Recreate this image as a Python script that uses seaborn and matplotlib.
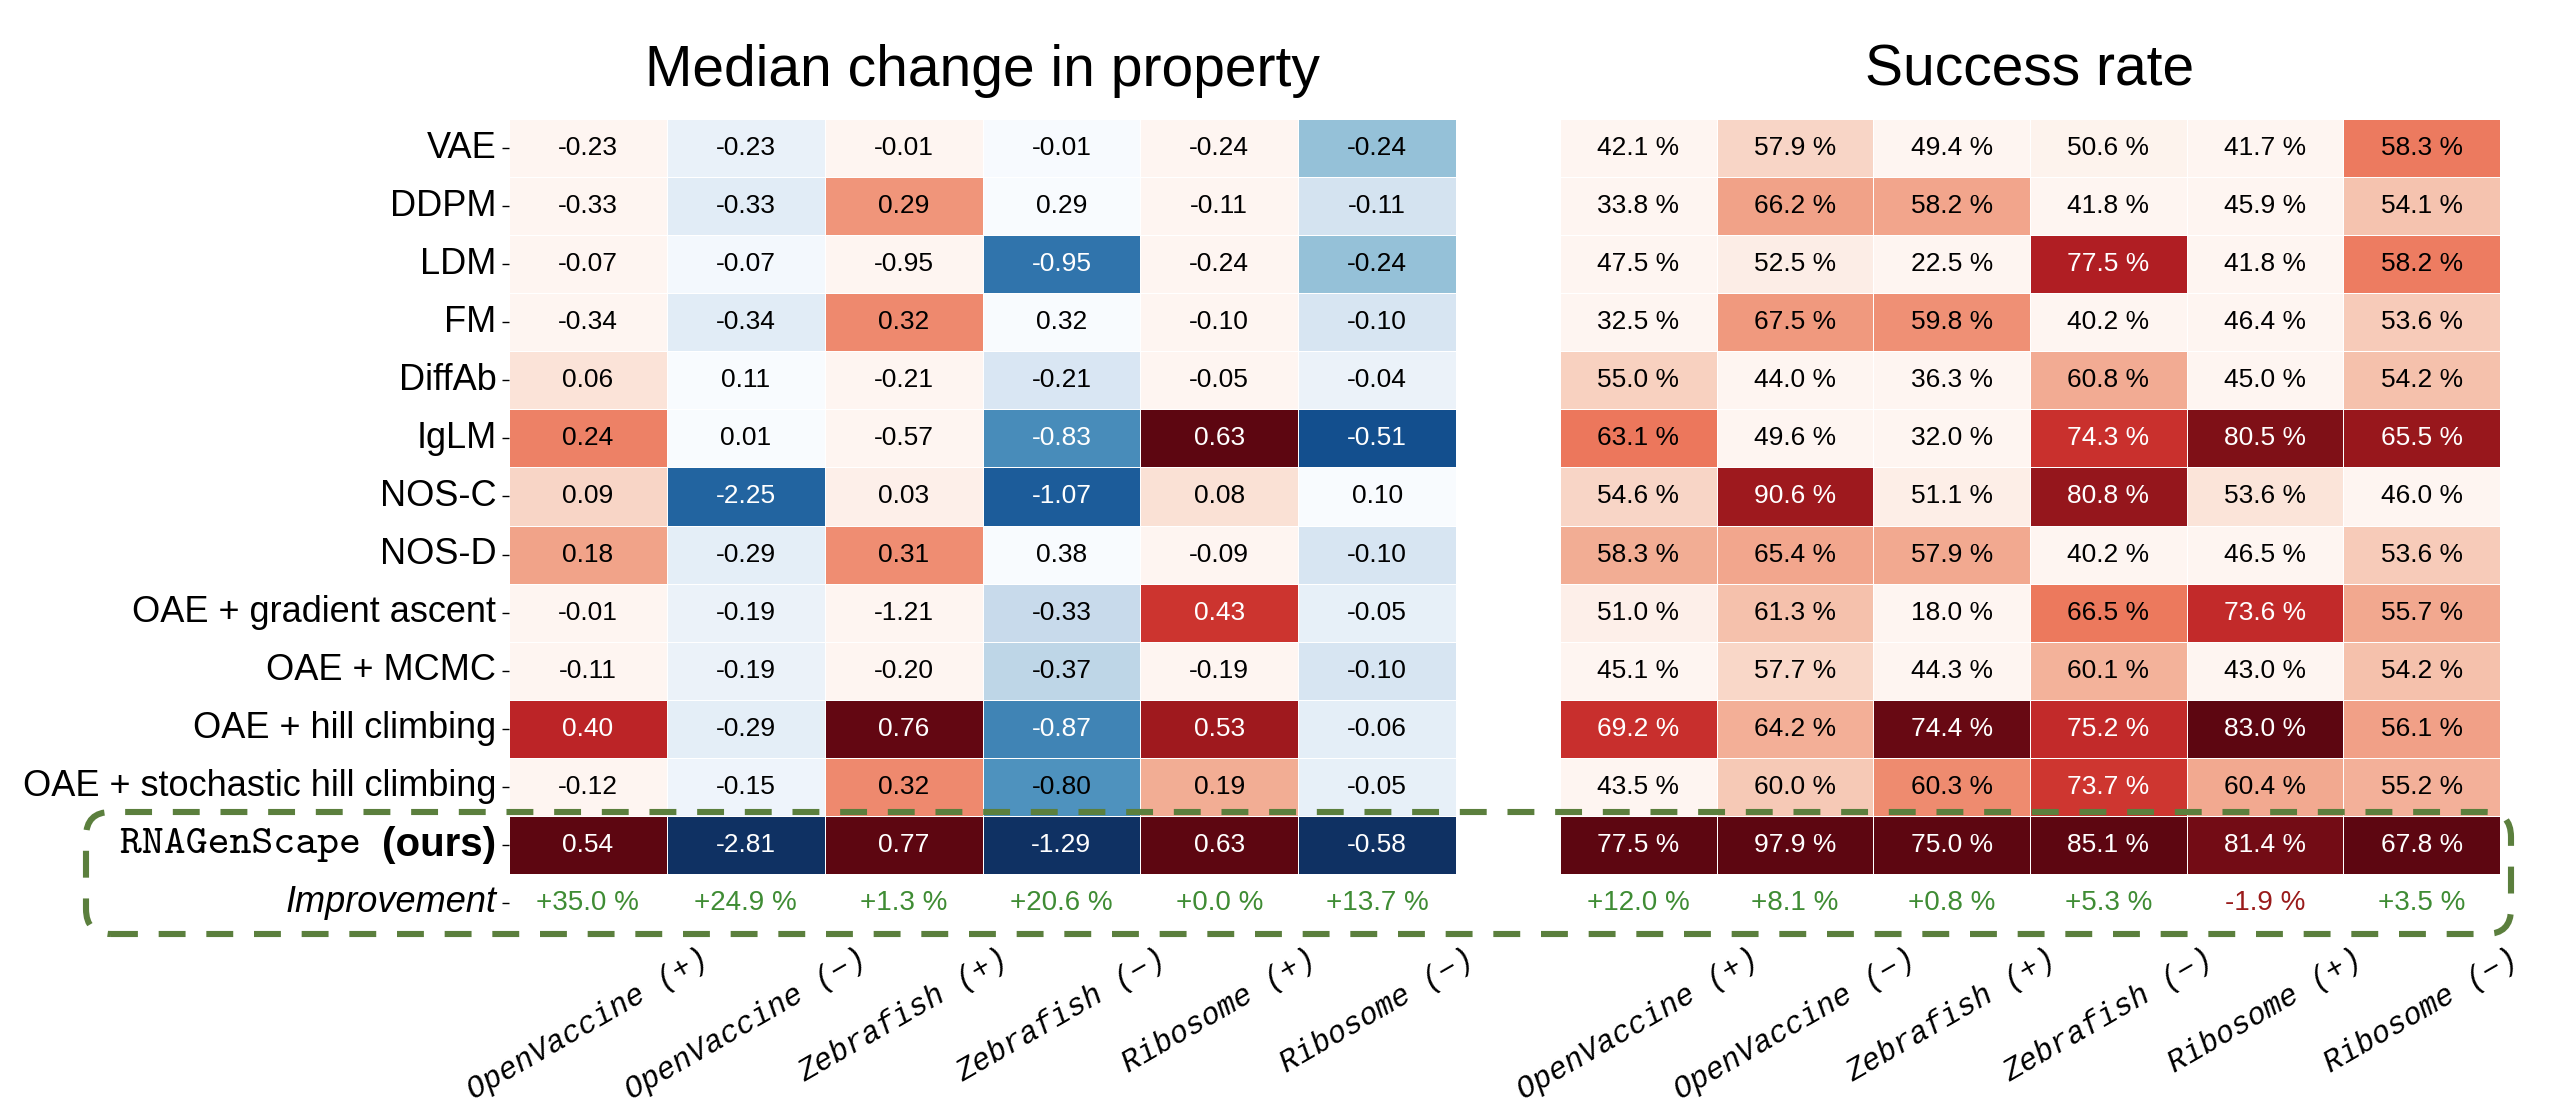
import numpy as np
import pandas as pd
import seaborn as sns
import matplotlib.pyplot as plt
from matplotlib import font_manager
from matplotlib.colors import ListedColormap
from matplotlib.patches import FancyBboxPatch

# heatmaps of median property change and success rate, colour scaled per column

methods = ["VAE", "DDPM", "LDM", "FM", "DiffAb", "IgLM", "NOS-C", "NOS-D",
           "OAE + gradient ascent", "OAE + MCMC", "OAE + hill climbing",
           "OAE + stochastic hill climbing", "RNAGenScape"]
tasks = ["OpenVaccine (+)", "OpenVaccine (\u2212)", "Zebrafish (+)",
         "Zebrafish (\u2212)", "Ribosome (+)", "Ribosome (\u2212)"]
task_sign = ["+", "-", "+", "-", "+", "-"]

median_change = [
    [-0.23, -0.23, -0.01, -0.01, -0.24, -0.24],
    [-0.33, -0.33, 0.29, 0.29, -0.11, -0.11],
    [-0.07, -0.07, -0.95, -0.95, -0.24, -0.24],
    [-0.34, -0.34, 0.32, 0.32, -0.10, -0.10],
    [0.06, 0.11, -0.21, -0.21, -0.05, -0.04],
    [0.24, 0.01, -0.57, -0.83, 0.63, -0.51],
    [0.09, -2.25, 0.03, -1.07, 0.08, 0.10],
    [0.18, -0.29, 0.31, 0.38, -0.09, -0.10],
    [-0.01, -0.19, -1.21, -0.33, 0.43, -0.05],
    [-0.11, -0.19, -0.20, -0.37, -0.19, -0.10],
    [0.40, -0.29, 0.76, -0.87, 0.53, -0.06],
    [-0.12, -0.15, 0.32, -0.80, 0.19, -0.05],
    [0.54, -2.81, 0.77, -1.29, 0.63, -0.58],
]
median_improvement = [35.0, 24.9, 1.3, 20.6, 0.0, 13.7]

success_rate = [
    [42.1, 57.9, 49.4, 50.6, 41.7, 58.3],
    [33.8, 66.2, 58.2, 41.8, 45.9, 54.1],
    [47.5, 52.5, 22.5, 77.5, 41.8, 58.2],
    [32.5, 67.5, 59.8, 40.2, 46.4, 53.6],
    [55.0, 44.0, 36.3, 60.8, 45.0, 54.2],
    [63.1, 49.6, 32.0, 74.3, 80.5, 65.5],
    [54.6, 90.6, 51.1, 80.8, 53.6, 46.0],
    [58.3, 65.4, 57.9, 40.2, 46.5, 53.6],
    [51.0, 61.3, 18.0, 66.5, 73.6, 55.7],
    [45.1, 57.7, 44.3, 60.1, 43.0, 54.2],
    [69.2, 64.2, 74.4, 75.2, 83.0, 56.1],
    [43.5, 60.0, 60.3, 73.7, 60.4, 55.2],
    [77.5, 97.9, 75.0, 85.1, 81.4, 67.8],
]
success_improvement = [12.0, 8.1, 0.8, 5.3, -1.9, 3.5]

plt.rcParams['font.family'] = ['Liberation Sans', 'DejaVu Sans']

# typewriter font for the task names
try:
    font_manager.findfont('Liberation Mono', fallback_to_default=False)
    mono = 'Liberation Mono'
except Exception:
    mono = 'DejaVu Sans Mono'


def muted(name, k=0.85):
    # slightly less saturated version of a matplotlib colormap
    c = plt.get_cmap(name)(np.linspace(0, 1, 256))[:, :3]
    g = c.mean(axis=1, keepdims=True)
    return ListedColormap(g + k * (c - g))


REDS = muted('Reds')
BLUES = muted('Blues')

W, H = 2566, 1118
fig = plt.figure(figsize=(W / 100, H / 100), dpi=100)
bot = (H - 932) / H
hgt = 813 / H
ax1 = fig.add_axes([509 / W, bot, 947 / W, hgt])
ax2 = fig.add_axes([1560 / W, bot, 940 / W, hgt])

GREEN = '#3f8c34'
RED = '#9a1b1b'


def draw_panel(ax, vals, improvement, mode, fmt):
    vals = np.array(vals, dtype=float)
    n = len(vals)
    full = np.vstack([vals, np.full((1, 6), np.nan)])
    for j in range(6):
        col = vals[:, j]
        if mode == 'success':
            data = full
            cmap, vmin, vmax = REDS, 50.0, col.max()
            norm = (col - vmin) / (vmax - vmin)
        elif task_sign[j] == '+':
            data = full
            cmap, vmin, vmax = REDS, 0.0, col.max()
            norm = col / vmax
        else:
            data = -full
            cmap, vmin, vmax = BLUES, 0.0, (-col).max()
            norm = -col / vmax
        mask = np.ones(full.shape, dtype=bool)
        mask[:n, j] = False
        df = pd.DataFrame(data, index=methods + ["Improvement"], columns=tasks)
        sns.heatmap(df, ax=ax, mask=mask, cmap=cmap, vmin=vmin, vmax=vmax,
                    cbar=False, linewidths=0.5, linecolor='white')
        for i in range(n):
            ax.text(j + 0.5, i + 0.5, fmt(col[i]), ha='center', va='center',
                    fontsize=19, color='white' if norm[i] > 0.63 else 'black')
        imp = improvement[j]
        ax.text(j + 0.5, n + 0.5, f"{imp:+.1f} %", ha='center', va='center',
                fontsize=20, color=GREEN if imp >= 0 else RED)


draw_panel(ax1, median_change, median_improvement, 'median', lambda v: f"{v:.2f}")
draw_panel(ax2, success_rate, success_improvement, 'success', lambda v: f"{v:.1f} %")

# row labels; the RNAGenScape one is built from two texts (typewriter + bold)
ylabels = methods[:-1] + ["", "Improvement"]
ax1.set_yticks(np.arange(14) + 0.5)
ax1.set_yticklabels(ylabels, rotation=0, fontsize=26)
ax1.get_yticklabels()[13].set_style('italic')
ax1.tick_params(axis='y', length=5, width=1, pad=4)
ax2.set_yticks([])

ours = ax1.annotate("(ours)", xy=(0, 12.5), xycoords=('axes fraction', 'data'),
                    xytext=(-9, 0), textcoords='offset points',
                    ha='right', va='center', fontsize=29, fontweight='bold')
ax1.annotate("RNAGenScape ", xy=(0, 0.5), xycoords=ours,
             ha='right', va='center', fontsize=30, family='cmtt10')

for ax, title in [(ax1, "Median change in property"), (ax2, "Success rate")]:
    ax.set_xticks(np.arange(6) + 0.5)
    ax.set_xticklabels(tasks, rotation=30, ha='center', fontsize=22,
                       family=mono, style='italic')
    ax.tick_params(axis='x', length=0, pad=8)
    ax.set_xlabel("")
    ax.set_ylabel("")
    ax.set_title(title, fontsize=41, pad=24)

box = FancyBboxPatch((0.86, (H - 934) / 100), 24.25, 1.22,
                     boxstyle="round,pad=0,rounding_size=0.25",
                     transform=fig.dpi_scale_trans, fill=False,
                     ec='#5b7f3d', lw=4.4, ls=(0, (4.4, 3.4)), zorder=10)
fig.add_artist(box)

fig.savefig('out.png', dpi=100)
